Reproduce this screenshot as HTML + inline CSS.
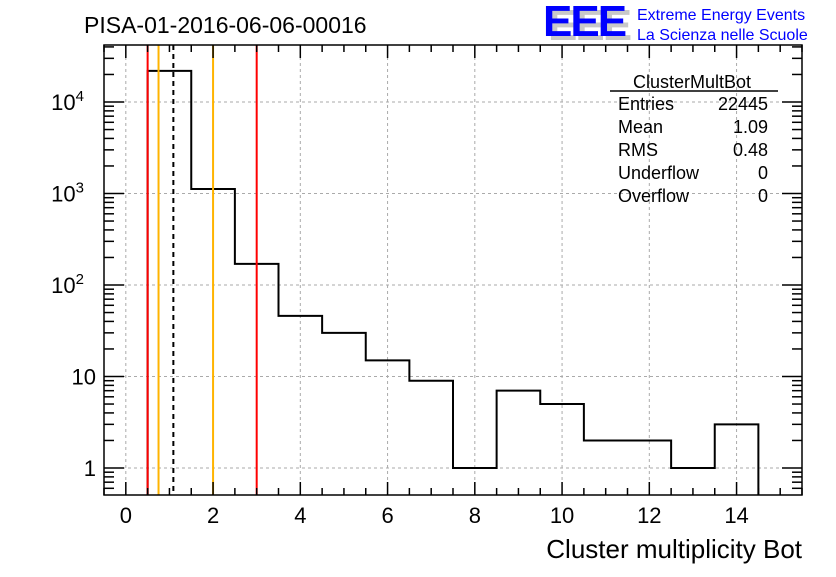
<!DOCTYPE html>
<html><head><meta charset="utf-8"><style>
body{margin:0;background:#fff;}
svg text{font-family:"Liberation Sans",sans-serif;}
</style></head><body>
<svg id="c" width="836" height="572" viewBox="0 0 836 572">
<text x="84" y="33" font-size="23">PISA-01-2016-06-06-00016</text>
<g>
<text x="548" y="40" font-size="44" font-weight="bold" fill="#c8c8c8" letter-spacing="-2">EEE</text>
<text x="543" y="36" font-size="44" font-weight="bold" fill="#0000ff" letter-spacing="-2">EEE</text>
<text x="637" y="20" font-size="16" fill="#0000ff">Extreme Energy Events</text>
<text x="637" y="40" font-size="16" fill="#0000ff">La Scienza nelle Scuole</text>
</g>
<g id="grid"></g>
<g id="marks"></g>
<rect x="104" y="45" width="698" height="450" fill="none" stroke="#000" stroke-width="1.5"/>
<g id="axes"></g>
<g font-size="18">
<text x="692" y="88" text-anchor="middle">ClusterMultBot</text>
<line x1="610" y1="91" x2="778" y2="91" stroke="#000" stroke-width="1.5"/>
<text x="618" y="110">Entries</text><text x="768" y="110" text-anchor="end">22445</text>
<text x="618" y="133">Mean</text><text x="768" y="133" text-anchor="end">1.09</text>
<text x="618" y="156">RMS</text><text x="768" y="156" text-anchor="end">0.48</text>
<text x="618" y="179">Underflow</text><text x="768" y="179" text-anchor="end">0</text>
<text x="618" y="202">Overflow</text><text x="768" y="202" text-anchor="end">0</text>
</g>
<text x="802" y="558" font-size="26" text-anchor="end">Cluster multiplicity Bot</text>
</svg>
<script>
const binEdgesLow = [0.5,1.5,2.5,3.5,4.5,5.5,6.5,7.5,8.5,9.5,10.5,11.5,12.5,13.5];
const counts = [21900,1120,170,46,30,15,9,1,7,5,2,2,1,3];
const xTicks = [0,2,4,6,8,10,12,14];
const yTicks = [1,10,100,1000,10000];
const yTickLabels = ["1","10","10^2","10^3","10^4"];
const refLines = [{v:0.5,c:"#ff0000",d:""},{v:0.75,c:"#ffb400",d:""},{v:1.09,c:"#000",d:"5,4"},{v:2,c:"#ffb400",d:""},{v:3,c:"#ff0000",d:""}];
const X0=104,X1=802,Y0=495,Y1=45,xmin=-0.5,xmax=15.5,lmin=Math.log10(0.507),lmax=4.623;
const sx=v=>X0+(v-xmin)/(xmax-xmin)*(X1-X0);
const sy=v=>Y0-(Math.log10(v)-lmin)/(lmax-lmin)*(Y0-Y1);
const NS="http://www.w3.org/2000/svg";
function mk(t,a,p){const e=document.createElementNS(NS,t);for(const k in a)e.setAttribute(k,a[k]);p.appendChild(e);return e;}
const grid=document.getElementById('grid'),marks=document.getElementById('marks'),axes=document.getElementById('axes');
xTicks.forEach(t=>{const l=mk('line',{x1:sx(t),x2:sx(t),y1:Y1,y2:Y0,stroke:'#aaa','stroke-dasharray':'3,3'},grid);

const tk=mk('line',{x1:sx(t),x2:sx(t),y1:Y0,y2:Y0-13,stroke:'#000','stroke-width':1.5},axes);

const tk2=mk('line',{x1:sx(t),x2:sx(t),y1:Y1,y2:Y1+13,stroke:'#000','stroke-width':1.5},axes);

const tx=mk('text',{x:sx(t),y:Y0+28,'font-size':22,'text-anchor':'middle'},axes);tx.textContent=t;
});
for(let t=-0.5;t<=15.5;t+=0.5){if(xTicks.includes(t))continue;[[Y0,Y0-7],[Y1,Y1+7]].forEach(p=>{const m=mk('line',{x1:sx(t),x2:sx(t),y1:p[0],y2:p[1],stroke:'#000','stroke-width':1.5},axes);});}
yTicks.forEach((t,i)=>{const l=mk('line',{x1:X0,x2:X1,y1:sy(t),y2:sy(t),stroke:'#aaa','stroke-dasharray':'3,3'},grid);

[[X0,X0+20],[X1,X1-20]].forEach(p=>{const m=mk('line',{x1:p[0],x2:p[1],y1:sy(t),y2:sy(t),stroke:'#000','stroke-width':1.5},axes);});
const lab=yTickLabels[i];const tx=mk('text',{x:X0-8,y:sy(t)+8,'font-size':22,'text-anchor':'end'},axes);
if(lab.includes('^')){const [b,e]=lab.split('^');tx.textContent=b;const ts=mk('tspan',{dy:-9,'font-size':15},tx);ts.textContent=e;tx.setAttribute('x',X0-20);}else tx.textContent=lab;
});
for(let d=-1;d<=4;d++)for(let k=2;k<=9;k++){const v=k*Math.pow(10,d);const y=sy(v);if(y<Y1||y>Y0)continue;
[[X0,X0+10],[X1,X1-10]].forEach(p=>{const m=mk('line',{x1:p[0],x2:p[1],y1:y,y2:y,stroke:'#000','stroke-width':1.5},axes);});}
let d=`M${sx(binEdgesLow[0])},${Y0}`;
binEdgesLow.forEach((lo,i)=>{const y=sy(counts[i]);d+=` L${sx(lo)},${y} L${sx(lo+1)},${y}`;});
d+=` L${sx(binEdgesLow[binEdgesLow.length-1]+1)},${Y0}`;
const h=mk('path',{d:d,fill:'none',stroke:'#000','stroke-width':2},marks);

refLines.forEach(r=>{const l=mk('line',{x1:sx(r.v),x2:sx(r.v),y1:Y1,y2:Y0,stroke:r.c,'stroke-width':2,'stroke-dasharray':r.d},marks);
});
</script>
</body></html>
